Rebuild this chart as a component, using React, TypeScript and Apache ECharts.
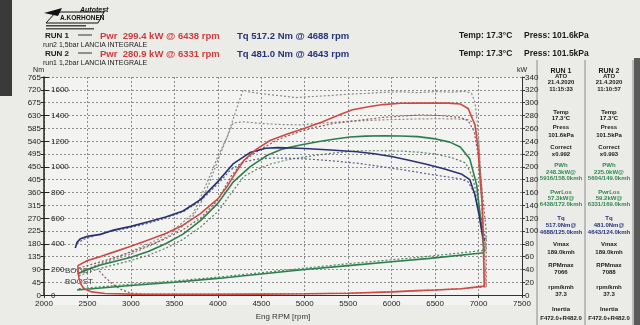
import React, { useEffect, useRef } from "react";
import * as echarts from "echarts";

// ---------- data ----------
const rpmLabels = [2000, 2500, 3000, 3500, 4000, 4500, 5000, 5500, 6000, 6500, 7000, 7500];

// Run 1 (solid) engine power, kW — up the ramp, the drop at the top, coast-down back along the bottom
const run1Power: [number, number][] = [
  [2390, 46], [2500, 54], [2650, 60], [2800, 67], [3000, 76], [3200, 86], [3400, 96], [3600, 109],
  [3800, 127], [4000, 150], [4100, 168], [4200, 190], [4300, 210], [4450, 228], [4600, 241], [4800, 251],
  [5000, 260], [5200, 270], [5400, 281], [5550, 289], [5750, 294], [5900, 297], [6100, 299], [6300, 299.3],
  [6438, 299.4], [6650, 299.2], [6790, 298], [6880, 291], [6960, 265], [6995, 227], [7020, 176], [7040, 146],
  [7053, 101], [7066, 14], [6800, 10], [6500, 8], [6300, 7], [6000, 5], [5500, 3], [5000, 2], [4500, 1.5],
  [4000, 1.2], [3500, 1.2], [3000, 1.5], [2700, 2.5], [2550, 5], [2460, 10], [2420, 18], [2400, 28],
  [2392, 38], [2390, 46],
];
// Run 2 (dotted) engine power, kW
const run2Power: [number, number][] = [
  [2400, 42], [2600, 50], [2800, 58], [3000, 67], [3200, 77], [3400, 88], [3600, 102], [3800, 120],
  [4000, 148], [4150, 185], [4300, 210], [4500, 228], [4700, 243], [4900, 253], [5100, 261], [5350, 268],
  [5660, 273], [5900, 277], [6100, 279], [6331, 280.9], [6550, 280], [6788, 277], [6880, 272], [6950, 255],
  [7000, 215], [7040, 165], [7088, 100], [7088, 13], [6800, 10], [6500, 8], [6000, 5], [5500, 3], [5000, 2],
  [4000, 1.5], [3200, 1.5], [3000, 3], [2900, 8], [2800, 16], [2700, 28], [2620, 40],
];
// Wheel power, kW
const run1Wheel: [number, number][] = [
  [2385, 33], [2500, 40], [2650, 47], [2800, 52], [3000, 59], [3200, 68], [3400, 80], [3600, 95],
  [3800, 116], [4000, 143], [4175, 176], [4370, 200], [4570, 218], [4750, 228], [4950, 234], [5150, 239],
  [5330, 243], [5520, 246.5], [5700, 247.8], [5916, 248.3], [6100, 248], [6300, 247], [6480, 244],
  [6670, 238.5], [6790, 231], [6900, 212], [6980, 171], [7040, 97], [7066, 68],
];
const run2Wheel: [number, number][] = [
  [2400, 30], [2600, 40], [2800, 47], [3000, 54], [3200, 62], [3400, 73], [3600, 87], [3800, 106],
  [4000, 130], [4150, 158], [4300, 185], [4450, 196], [4600, 204], [4800, 211], [5030, 216], [5300, 221],
  [5604, 225], [5900, 225], [6100, 224.5], [6300, 223], [6500, 220], [6700, 214], [6850, 206], [6930, 185],
  [6990, 150], [7040, 110], [7088, 72],
];
// Power loss, kW
const run1Loss: [number, number][] = [
  [2380, 8], [3000, 15], [3500, 20], [4000, 26], [4500, 33], [5000, 40], [5500, 46], [6000, 52],
  [6438, 57.3], [7066, 66],
];
const run2Loss: [number, number][] = [
  [2400, 10], [3000, 17], [3500, 22], [4000, 28], [4500, 35], [5000, 42], [5500, 49], [6000, 55],
  [6331, 59.2], [7088, 70],
];
// Torque, Nm
const run1Torque: [number, number][] = [
  [2360, 165], [2380, 185], [2420, 198], [2500, 206], [2650, 213], [2800, 228], [3000, 241], [3200, 257],
  [3400, 274], [3600, 295], [3800, 335], [4000, 398], [4175, 460], [4370, 500], [4550, 515], [4688, 517.2],
  [4850, 516], [5000, 514], [5300, 509], [5600, 503], [5800, 496], [6000, 486], [6200, 473], [6400, 459],
  [6600, 443], [6800, 425], [6900, 405], [6960, 350], [7000, 290], [7040, 220], [7066, 190],
];
const run2Torque: [number, number][] = [
  [2380, 180], [2450, 195], [2600, 210], [2800, 225], [3000, 237], [3200, 252], [3400, 270], [3600, 292],
  [3800, 330], [4000, 390], [4150, 440], [4300, 467], [4450, 477], [4643, 481], [4850, 480], [5100, 476],
  [5350, 470], [5620, 462], [5900, 450], [6200, 436], [6500, 421], [6788, 408], [6880, 397], [6950, 360],
  [7000, 300], [7050, 230], [7088, 195],
];
// Boost, mbar
const run1Boost: [number, number][] = [
  [2450, 190], [2700, 260], [3000, 340], [3300, 430], [3550, 540], [3715, 634], [3800, 760], [3911, 932],
  [4000, 1080], [4106, 1230], [4200, 1420], [4290, 1600], [4350, 1585], [4500, 1570], [4700, 1555],
  [4900, 1540], [5100, 1548], [5300, 1556], [5500, 1566], [5700, 1572], [5900, 1580], [6100, 1585],
  [6300, 1578], [6500, 1586], [6700, 1582], [6850, 1588], [6920, 1572], [6960, 1500], [7000, 1250],
  [7030, 850], [7050, 400], [7066, 60],
];
const run2Boost: [number, number][] = [
  [2450, 180], [2700, 250], [3000, 320], [3300, 410], [3550, 510], [3700, 600], [3800, 710], [3900, 870],
  [4000, 1050], [4100, 1220], [4175, 1342], [4300, 1350], [4500, 1338], [4700, 1330], [4947, 1327],
  [5100, 1335], [5300, 1345], [5500, 1355], [5700, 1360], [5900, 1366], [6100, 1370], [6300, 1373],
  [6500, 1375], [6700, 1374], [6880, 1368], [6950, 1340], [7000, 1200], [7040, 800], [7070, 300], [7088, 60],
];

const headerRuns = [
  { run: "RUN 1", pwr: "Pwr  299.4 kW @ 6438 rpm", tq: "Tq 517.2 Nm @ 4688 rpm", temp: "Temp: 17.3°C", press: "Press: 101.6kPa", note: "run2 1,5bar LANCIA INTEGRALE" },
  { run: "RUN 2", pwr: "Pwr  280.9 kW @ 6331 rpm", tq: "Tq 481.0 Nm @ 4643 rpm", temp: "Temp: 17.3°C", press: "Press: 101.5kPa", note: "run1 1,2bar LANCIA INTEGRALE" },
];

const tableRun1 = ["RUN 1", "ATO", "21.4.2020", "11:15:33", "Temp", "17.3°C", "Press", "101.6kPa", "Correct", "x0.992", "PWh", "248.3kW@", "5916/158.0kmh", "PwrLos", "57.3kW@", "6438/172.0kmh", "Tq", "517.0Nm@", "4688/125.0kmh", "Vmax", "189.0kmh", "RPMmax", "7066", "rpm/kmh", "37.3", "Inertia", "F472.0+R482.0"];
const tableRun2 = ["RUN 2", "ATO", "21.4.2020", "11:10:57", "Temp", "17.3°C", "Press", "101.5kPa", "Correct", "x0.993", "PWh", "225.0kW@", "5604/149.0kmh", "PwrLos", "59.2kW@", "6331/169.0kmh", "Tq", "481.0Nm@", "4643/124.0kmh", "Vmax", "189.0kmh", "RPMmax", "7088", "rpm/kmh", "37.3", "Inertia", "F472.0+R482.0"];

// ---------- layout / style ----------
const FONT = "'Liberation Sans', Arial, sans-serif";
const tableY = [70, 76, 82, 89, 112, 118, 127, 135, 147, 154, 165, 172, 178, 192, 198, 204, 218, 225, 232, 244, 252, 265, 272, 287, 294, 309, 318];
const tableColor = (i: number) => (i >= 10 && i <= 15 ? "#2f8a50" : i >= 16 && i <= 18 ? "#27337a" : "#1a1a1a");

const RED = "#d04a44";
const BLUE = "#2a336f";
const GREEN = "#2f7d4c";

function buildOption() {
  const graphics: any[] = [];
  // paper & photo edges
  graphics.push({ type: "rect", z: -10, shape: { x: 0, y: 0, width: 640, height: 325 }, style: { fill: "#ebebe8" } });
  graphics.push({ type: "rect", z: -9, shape: { x: 44, y: 77, width: 478, height: 228 }, style: { fill: "#f3f3f1" } });
  graphics.push({ type: "rect", z: -8, shape: { x: 0, y: 0, width: 12, height: 96 }, style: { fill: "#3a3a3a" } });
  graphics.push({ type: "rect", z: -8, shape: { x: 634, y: 58, width: 6, height: 267 }, style: { fill: "#5a5a5a" } });

  // logo
  graphics.push({ type: "polygon", shape: { points: [[46, 23], [56, 12], [104, 12], [98, 23]] }, style: { fill: "none", stroke: "#111", lineWidth: 1 } });
  graphics.push({ type: "polygon", shape: { points: [[44, 13], [62, 8], [58, 16]] }, style: { fill: "#111" } });
  graphics.push({ type: "text", style: { text: "Autotest", x: 80, y: 9, font: `italic bold 7px ${FONT}`, fill: "#111", textVerticalAlign: "middle" } });
  graphics.push({ type: "text", style: { text: "A.KORHONEN", x: 60, y: 17.5, font: `bold 6.5px ${FONT}`, fill: "#111", textVerticalAlign: "middle" } });
  graphics.push({ type: "rect", shape: { x: 46, y: 25, width: 40, height: 1.5 }, style: { fill: "#444" } });
  graphics.push({ type: "rect", shape: { x: 46, y: 28, width: 48, height: 1.5 }, style: { fill: "#555" } });

  // header
  headerRuns.forEach((h, i) => {
    const y = 35 + i * 18;
    graphics.push({ type: "text", style: { text: h.run, x: 45, y, font: `bold 8px ${FONT}`, fill: "#1a1a1a", textVerticalAlign: "middle" } });
    graphics.push({ type: "line", shape: { x1: 78, y1: y, x2: 92, y2: y }, style: { stroke: "#333", lineWidth: 1 } });
    graphics.push({ type: "text", style: { text: h.pwr, x: 100, y, font: `bold 9.5px ${FONT}`, fill: "#d03c3c", textVerticalAlign: "middle" } });
    graphics.push({ type: "text", style: { text: h.tq, x: 237, y, font: `bold 9.5px ${FONT}`, fill: "#27337a", textVerticalAlign: "middle" } });
    graphics.push({ type: "text", style: { text: h.temp, x: 459, y, font: `bold 8.5px ${FONT}`, fill: "#1a1a1a", textVerticalAlign: "middle" } });
    graphics.push({ type: "text", style: { text: h.press, x: 524, y, font: `bold 8.5px ${FONT}`, fill: "#1a1a1a", textVerticalAlign: "middle" } });
    graphics.push({ type: "text", style: { text: h.note, x: 43, y: y + 9, font: `7px ${FONT}`, fill: "#222", textVerticalAlign: "middle" } });
  });

  // BOOST labels
  graphics.push({ type: "text", style: { text: "BOOST", x: 65, y: 270, font: `8px ${FONT}`, fill: "#333", textVerticalAlign: "middle" } });
  graphics.push({ type: "text", style: { text: "BOOST", x: 65, y: 281, font: `8px ${FONT}`, fill: "#333", textVerticalAlign: "middle" } });

  // table
  [537, 585, 633].forEach((x) => graphics.push({ type: "line", shape: { x1: x, y1: 60, x2: x, y2: 325 }, style: { stroke: "#8a8a8a", lineWidth: 1 } }));
  [tableRun1, tableRun2].forEach((col, c) => {
    const cx = c === 0 ? 561 : 609;
    col.forEach((t, i) => {
      graphics.push({ type: "text", style: { text: t, x: cx, y: tableY[i], font: `bold ${i === 0 ? 7 : 6}px ${FONT}`, fill: tableColor(i), textAlign: "center", textVerticalAlign: "middle" } });
    });
  });

  const mk = (name: string, data: [number, number][], yAxisIndex: number, color: string, dotted: boolean, z: number) => ({
    name,
    type: "line",
    data,
    yAxisIndex,
    showSymbol: false,
    symbol: "none",
    z,
    lineStyle: { color, width: dotted ? 1.2 : 1.6, type: dotted ? [2, 2] : "solid" },
  });

  const gridLine = { show: true, lineStyle: { color: "#8c8c8c", width: 1, type: [2, 2] } };

  return {
    animation: false,
    backgroundColor: "transparent",
    grid: { left: 44, right: 118, top: 77, bottom: 20, containLabel: false },
    xAxis: {
      type: "value",
      min: 2000,
      max: 7500,
      interval: 500,
      name: "Eng RPM [rpm]",
      nameLocation: "middle",
      nameGap: 15,
      nameTextStyle: { fontSize: 8, color: "#333", fontFamily: FONT },
      axisLine: { lineStyle: { color: "#333", width: 1 } },
      axisTick: { length: 3, lineStyle: { color: "#333" } },
      axisLabel: { fontSize: 8, color: "#222", margin: 4, fontFamily: FONT, formatter: (v: number) => (rpmLabels.includes(v) ? String(v) : "") },
      splitLine: gridLine,
    },
    yAxis: [
      {
        type: "value",
        min: 0,
        max: 765,
        interval: 45,
        position: "left",
        name: "Nm",
        nameLocation: "end",
        nameGap: 2,
        nameTextStyle: { fontSize: 7, color: "#222", align: "right", fontFamily: FONT },
        axisLine: { show: true, lineStyle: { color: "#222", width: 1.5 } },
        axisTick: { show: true, length: 3, lineStyle: { color: "#222" } },
        axisLabel: { fontSize: 8, color: "#222", margin: 3, fontFamily: FONT },
        splitLine: gridLine,
      },
      {
        type: "value",
        min: 0,
        max: 340,
        interval: 20,
        position: "right",
        name: "kW",
        nameLocation: "end",
        nameGap: 2,
        nameTextStyle: { fontSize: 7, color: "#222", fontFamily: FONT },
        axisLine: { show: true, lineStyle: { color: "#333", width: 1 } },
        axisTick: { show: true, length: 3, lineStyle: { color: "#333" } },
        axisLabel: { fontSize: 8, color: "#222", margin: 3, fontFamily: FONT },
        splitLine: { show: false },
      },
      {
        type: "value",
        min: 0,
        max: 1700,
        interval: 200,
        position: "left",
        axisLine: { show: false },
        axisTick: { show: true, inside: true, length: 5, lineStyle: { color: "#222" } },
        axisLabel: { inside: true, fontSize: 8, color: "#222", margin: 7, fontFamily: FONT, formatter: (v: number) => (v % 200 === 0 ? String(v) : "") },
        splitLine: { show: false },
      },
    ],
    graphic: graphics,
    series: [
      mk("Boost run 1", run1Boost, 2, "#8a8a8a", true, 2),
      mk("Boost run 2", run2Boost, 2, "#8a8a8a", true, 2),
      mk("PwrLos run 2", run2Loss, 1, "#4d8a62", true, 3),
      mk("PwrLos run 1", run1Loss, 1, GREEN, false, 4),
      mk("PWh run 2", run2Wheel, 1, "#5c7f68", true, 3),
      mk("PWh run 1", run1Wheel, 1, GREEN, false, 4),
      mk("Tq run 2", run2Torque, 0, "#5b6288", true, 3),
      mk("Tq run 1", run1Torque, 0, BLUE, false, 4),
      mk("Pwr run 2", run2Power, 1, "#8c5a58", true, 3),
      mk("Pwr run 1", run1Power, 1, RED, false, 5),
    ],
  };
}

export default function App() {
  const ref = useRef<HTMLDivElement>(null);
  useEffect(() => {
    if (!ref.current) return;
    const chart = echarts.init(ref.current, null, { renderer: "svg", width: 640, height: 325 });
    chart.setOption(buildOption() as any);
    return () => chart.dispose();
  }, []);
  return <div ref={ref} style={{ position: "fixed", left: 0, top: 0, width: 640, height: 325 }} />;
}
